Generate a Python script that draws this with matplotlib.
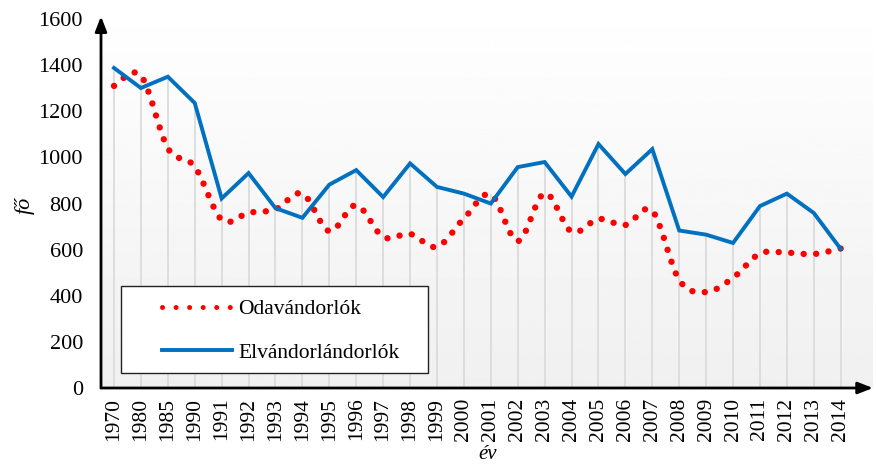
import numpy as np
import matplotlib
matplotlib.use('Agg')
import matplotlib.pyplot as plt
from matplotlib.path import Path
from matplotlib.patches import PathPatch, Rectangle
from matplotlib.lines import Line2D

# data
years = ['1970', '1980', '1985', '1990'] + [str(y) for y in range(1991, 2015)]
odavandorlok = [1310, 1355, 1040, 960, 730, 760, 775, 843, 680, 793, 655, 668, 612, 735,
                840, 637, 845, 678, 733, 707, 768, 468, 416, 478, 583, 587, 581, 605]
elvandorlok = [1388, 1301, 1350, 1236, 822, 932, 780, 738, 882, 945, 828, 974, 872, 843,
               800, 958, 980, 830, 1058, 928, 1036, 683, 665, 629, 789, 843, 759, 603]
yticks = [0, 200, 400, 600, 800, 1000, 1200, 1400, 1600]

plt.rcParams['font.family'] = ['Liberation Serif', 'DejaVu Serif']

W, H = 876, 465
fig = plt.figure(figsize=(W / 100, H / 100), dpi=100)
ax = fig.add_axes([101 / W, (H - 388) / H, 772 / W, 386 / H])

x = np.arange(len(years))
ax.set_xlim(-0.483, 28.2)
ax.set_ylim(0, 1674)

# gradient background of the plot area
grad = np.linspace(0.94, 1.0, 256).reshape(-1, 1)
ax.imshow(grad, cmap='gray', vmin=0, vmax=1, aspect='auto', origin='lower',
          extent=[-0.483, 28.2, 0, 1674], zorder=0)

# drop lines
top = np.maximum(odavandorlok, elvandorlok)
ax.vlines(x, 0, top, color='#d9d9d9', lw=1.2, zorder=1)

# smoothed dotted series (Excel style bezier through the points)
pts = np.column_stack([x, odavandorlok]).astype(float)
verts = [pts[0]]
codes = [Path.MOVETO]
n = len(pts)
for i in range(n - 1):
    p0 = pts[i - 1] if i > 0 else pts[i]
    p1 = pts[i]
    p2 = pts[i + 1]
    p3 = pts[i + 2] if i + 2 < n else pts[i + 1]
    verts += [p1 + (p2 - p0) / 6, p2 - (p3 - p1) / 6, p2]
    codes += [Path.CURVE4] * 3
patch = PathPatch(Path(verts, codes), fill=False, edgecolor='#ff0000', lw=4.6,
                  linestyle=(0, (0.01, 1.95)), zorder=3)
patch.set_capstyle('round')
ax.add_patch(patch)

ax.plot(x, elvandorlok, color='#0070c0', lw=2.8, zorder=4, solid_joinstyle='miter')

# axes with arrows
for s in ax.spines.values():
    s.set_visible(False)
ax.annotate('', xy=(-0.483, 1612), xytext=(-0.483, 0),
            arrowprops=dict(arrowstyle='-|>,head_length=0.9,head_width=0.35', lw=2, color='black',
                            shrinkA=0, shrinkB=0), zorder=5, annotation_clip=False)
ax.annotate('', xy=(28.2, 0), xytext=(-0.483, 0),
            arrowprops=dict(arrowstyle='-|>,head_length=0.9,head_width=0.35', lw=2, color='black',
                            shrinkA=0, shrinkB=0), zorder=5, annotation_clip=False)

ax.set_yticks(yticks)
ax.set_yticklabels([str(v) for v in yticks], fontsize=16)
ax.set_xticks(x)
ax.set_xticklabels(years, rotation=90, fontsize=15.5)
ax.tick_params(axis='both', length=0)
ax.tick_params(axis='y', pad=13)
ax.tick_params(axis='x', pad=7)

fig.text(25 / W, 1 - 205 / H, 'fő', rotation=90, fontsize=16, style='italic',
         ha='center', va='center')
fig.text(488 / W, 1 - 454 / H, 'év', fontsize=15, style='italic', ha='center', va='center')

# legend: frame drawn separately, entries placed inside
fig.patches.append(Rectangle((121 / W, 1 - 373 / H), 307 / W, 87 / H, transform=fig.transFigure,
                             facecolor='white', edgecolor='#222222', lw=1.0, zorder=6))
handles = [Line2D([], [], color='#ff0000', lw=3.6, linestyle=(0, (0.01, 2.7)),
                  dash_capstyle='round'),
           Line2D([], [], color='#0070c0', lw=2.8)]
leg = fig.legend(handles, ['Odavándorlók', 'Elvándorlándorlók'], loc='center left',
                 bbox_to_anchor=(162 / W, 1 - 331 / H), bbox_transform=fig.transFigure,
                 borderaxespad=0, borderpad=0, fontsize=15.5, frameon=False,
                 handlelength=3.25, handletextpad=0.3, labelspacing=1.1)
leg.set_zorder(7)

fig.savefig('out.png', dpi=100)
